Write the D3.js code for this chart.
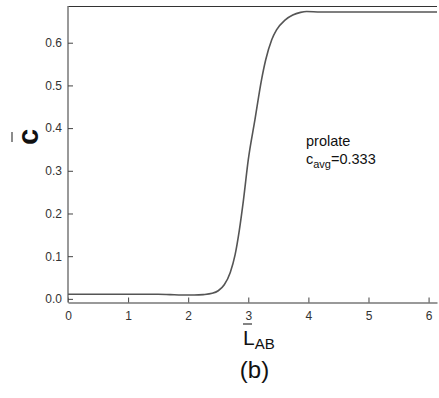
<!DOCTYPE html>
<html>
<head>
<meta charset="utf-8">
<script src="https://cdn.jsdelivr.net/npm/d3@7"></script>
<style>
  html, body { margin: 0; padding: 0; background: #fff; }
  svg { display: block; font-family: Arial, "Liberation Sans", sans-serif; }
</style>
</head>
<body>
<svg id="chart" width="439" height="398"></svg>
<script>
// curve
const lab = [0, 0.5, 1, 1.5, 1.7, 1.9, 2.1, 2.25, 2.4, 2.5, 2.6, 2.7, 2.78, 2.85, 2.92, 3.0, 3.11, 3.22, 3.29, 3.39, 3.47, 3.61, 3.74, 3.87, 3.97, 4.2, 5, 6.14];
const cbar = [0.011, 0.011, 0.011, 0.011, 0.010, 0.009, 0.009, 0.010, 0.013, 0.019, 0.033, 0.062, 0.103, 0.160, 0.232, 0.326, 0.419, 0.513, 0.560, 0.607, 0.630, 0.653, 0.665, 0.671, 0.673, 0.672, 0.672, 0.672];
const xTicks = [0, 1, 2, 3, 4, 5, 6];
const yTicks = [0.0, 0.1, 0.2, 0.3, 0.4, 0.5, 0.6];

const svg = d3.select('#chart');
const mLeft = 68, mRight = 437, mTop = 6, mBottom = 302.5;

const x = d3.scaleLinear().domain([0, 6.14]).range([mLeft, mRight]);
const y = d3.scaleLinear().domain([-0.0085, 0.686]).range([mBottom, mTop]);

// top border
svg.append('line')
  .attr('x1', mLeft).attr('x2', mRight)
  .attr('y1', mTop + 0.5).attr('y2', mTop + 0.5)
  .attr('stroke', '#333').attr('stroke-width', 1.2);

// x axis, ticks pointing inward
const xAxis = svg.append('g')
  .attr('transform', `translate(0,${mBottom})`)
  .call(d3.axisBottom(x).tickValues(xTicks).tickFormat(d3.format('d'))
    .tickSizeInner(-5).tickSizeOuter(0).tickPadding(9));
xAxis.select('.domain').attr('stroke', '#777').attr('stroke-width', 1.5);
xAxis.selectAll('.tick line').attr('stroke', '#444');
xAxis.selectAll('.tick text').attr('fill', '#333').style('font-size', '12px');

// y axis
const yAxis = svg.append('g')
  .attr('transform', `translate(${mLeft},0)`)
  .call(d3.axisLeft(y).tickValues(yTicks).tickFormat(d3.format('.1f'))
    .tickSizeInner(-5).tickSizeOuter(0).tickPadding(6));
yAxis.select('.domain').attr('stroke', '#777').attr('stroke-width', 1.5)
  .attr('d', `M0,${mTop}V${mBottom}`);
yAxis.selectAll('.tick line').attr('stroke', '#444');
yAxis.selectAll('.tick text').attr('fill', '#333').style('font-size', '12px');

// curve
const line = d3.line()
  .x((d, i) => x(lab[i]))
  .y(d => y(d))
  .curve(d3.curveMonotoneX);

svg.append('path')
  .datum(cbar)
  .attr('d', line)
  .attr('fill', 'none')
  .attr('stroke', '#555')
  .attr('stroke-width', 1.6);

// y title: c with overline, rotated
const yt = svg.append('g').attr('transform', 'translate(38,137) rotate(-90)');
yt.append('text')
  .attr('text-anchor', 'middle')
  .attr('font-weight', 'bold')
  .style('font-size', '29px')
  .attr('fill', '#111')
  .text('c');
yt.append('line')
  .attr('x1', -5).attr('x2', 5)
  .attr('y1', -26).attr('y2', -26)
  .attr('stroke', '#666').attr('stroke-width', 1.5);

// x title: L with overline, subscript AB
const xt = svg.append('text')
  .attr('x', 243).attr('y', 345)
  .attr('fill', '#111')
  .style('font-size', '21px');
xt.append('tspan').text('L');
xt.append('tspan').attr('dy', 4).style('font-size', '15px').text('AB');
svg.append('line')
  .attr('x1', 243).attr('x2', 252)
  .attr('y1', 324).attr('y2', 324)
  .attr('stroke', '#333').attr('stroke-width', 1.2);

// panel label
svg.append('text')
  .attr('x', 254.5).attr('y', 378)
  .attr('text-anchor', 'middle')
  .attr('fill', '#111')
  .style('font-size', '24px')
  .text('(b)');

// annotation
svg.append('text')
  .attr('x', 306).attr('y', 146)
  .attr('fill', '#111')
  .style('font-size', '14.5px')
  .text('prolate');
const ann = svg.append('text')
  .attr('x', 306).attr('y', 163.5)
  .attr('fill', '#111')
  .style('font-size', '14.5px');
ann.append('tspan').text('c');
ann.append('tspan').attr('dy', 4).style('font-size', '11px').text('avg');
ann.append('tspan').attr('dy', -4).text('=0.333');
</script>
</body>
</html>
